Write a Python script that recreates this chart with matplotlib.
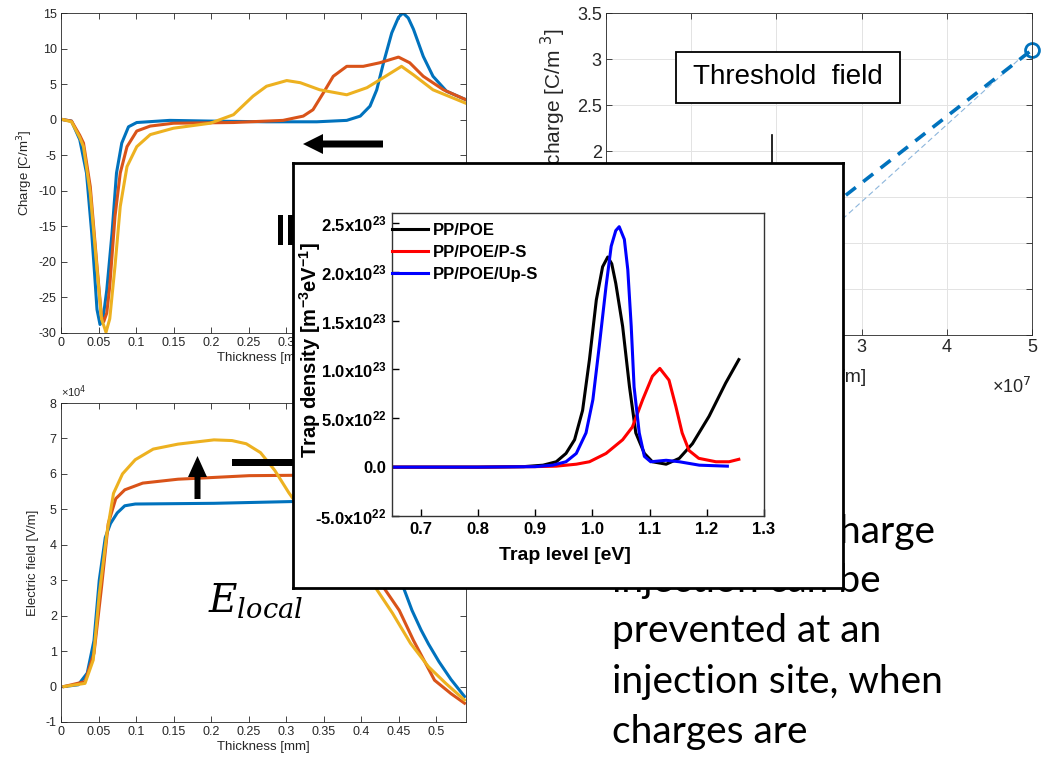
import matplotlib.pyplot as plt
import numpy as np
from matplotlib.patches import Polygon, Rectangle
from matplotlib.ticker import FuncFormatter

W, H = 1045, 763

# ---- space charge profile (top left), charge in C/m^3 vs thickness in mm ----
q_x_blue = [0.003, 0.014, 0.025, 0.034, 0.041, 0.045, 0.048, 0.052, 0.056, 0.061, 0.068,
            0.074, 0.081, 0.09, 0.101, 0.145, 0.199, 0.274, 0.341, 0.381, 0.399, 0.412,
            0.421, 0.43, 0.441, 0.45, 0.456, 0.463, 0.47, 0.483, 0.496, 0.514, 0.54]
q_y_blue = [0, -0.2, -2.8, -7.5, -16, -22, -26.7, -28.8, -28, -24, -16,
            -7.5, -3.3, -1, -0.4, -0.1, -0.2, -0.3, -0.3, -0.1, 0.5, 1.9,
            4.2, 8, 12.2, 14.4, 15, 14.3, 12.7, 8.9, 6.1, 4, 2.8]
q_x_orange = [0.003, 0.014, 0.025, 0.03, 0.039, 0.048, 0.054, 0.057, 0.061, 0.065, 0.072,
              0.079, 0.088, 0.101, 0.119, 0.15, 0.23, 0.296, 0.323, 0.336, 0.35, 0.363,
              0.381, 0.403, 0.425, 0.45, 0.465, 0.483, 0.51, 0.54]
q_y_orange = [0, -0.2, -2.2, -3.3, -9.4, -20.6, -27.7, -28.4, -27.2, -23.4, -13.6,
              -7.5, -3.8, -1.6, -0.9, -0.5, -0.4, -0.1, 0.5, 1.4, 3.8, 6.1,
              7.5, 7.5, 8, 8.8, 8, 6.1, 4.2, 2.8]
q_x_yellow = [0.003, 0.014, 0.025, 0.03, 0.039, 0.048, 0.054, 0.06, 0.065, 0.072, 0.079,
              0.088, 0.101, 0.119, 0.15, 0.199, 0.23, 0.256, 0.274, 0.301, 0.319, 0.345,
              0.381, 0.408, 0.425, 0.454, 0.47, 0.496, 0.54]
q_y_yellow = [0, -0.3, -2.5, -3.8, -10.3, -21, -28, -29.9, -28, -20.6, -12.2,
              -6.6, -3.8, -2.1, -1.2, -0.5, 0.7, 3.3, 4.7, 5.5, 5.2, 4.2,
              3.5, 4.5, 5.6, 7.5, 6.3, 4.2, 2.3]

# ---- electric field profile (bottom left), x10^4 V/m ----
e_x_blue = [0.004, 0.023, 0.035, 0.044, 0.051, 0.059, 0.066, 0.075, 0.085, 0.099, 0.204,
            0.309, 0.36, 0.40, 0.425, 0.445, 0.457, 0.468, 0.48, 0.49, 0.504, 0.52, 0.538]
e_y_blue = [0, 0.05, 0.38, 1.3, 3.0, 4.2, 4.6, 4.9, 5.1, 5.15, 5.17,
            5.22, 5.25, 5.2, 4.9, 3.8, 2.77, 2.15, 1.6, 1.2, 0.7, 0.2, -0.28]
e_x_orange = [0.004, 0.032, 0.044, 0.054, 0.063, 0.073, 0.085, 0.109, 0.156, 0.204, 0.251,
              0.309, 0.36, 0.40, 0.42, 0.431, 0.451, 0.47, 0.498, 0.52, 0.538]
e_y_orange = [0, 0.14, 0.94, 2.8, 4.6, 5.3, 5.55, 5.74, 5.85, 5.9, 5.95,
              5.96, 5.9, 5.4, 3.8, 2.77, 2.15, 1.3, 0.18, -0.2, -0.47]
e_x_yellow = [0.004, 0.032, 0.043, 0.051, 0.061, 0.07, 0.082, 0.099, 0.123, 0.156, 0.204,
              0.228, 0.247, 0.266, 0.285, 0.304, 0.33, 0.36, 0.40, 0.42, 0.442, 0.466,
              0.49, 0.513, 0.538]
e_y_yellow = [0, 0.09, 0.75, 2.6, 4.3, 5.45, 6.0, 6.4, 6.7, 6.84, 6.96,
              6.94, 6.85, 6.6, 6.1, 5.46, 4.7, 4.0, 3.3, 2.77, 2.07, 1.22,
              0.56, 0.09, -0.38]

thick_ticks = [0, 0.05, 0.1, 0.15, 0.2, 0.25, 0.3, 0.35, 0.4, 0.45, 0.5]

# ---- threshold field (top right) ----
field_dash = [2.0e7, 5.0e7]
charge_dash = [0.93, 3.1]
field_thin = [2.0e7, 4.9e7]
charge_thin = [0.61, 3.04]

# ---- TSC trap distribution (inset), x10^23 m^-3 eV^-1 ----
trap_names = ['PP/POE', 'PP/POE/P-S', 'PP/POE/Up-S']
lv_black = [0.65, 0.80, 0.88, 0.914, 0.937, 0.954, 0.969, 0.983, 0.995, 1.007, 1.018, 1.027,
            1.034, 1.041, 1.053, 1.065, 1.076, 1.091, 1.105, 1.129, 1.152, 1.175, 1.204,
            1.233, 1.256]
tr_black = [0, 0, 0.005, 0.02, 0.055, 0.14, 0.28, 0.58, 1.10, 1.71, 2.05, 2.15,
            2.08, 1.88, 1.44, 0.82, 0.35, 0.14, 0.055, 0.03, 0.09, 0.24, 0.52,
            0.86, 1.10]
lv_red = [0.65, 0.80, 0.90, 0.937, 0.972, 0.995, 1.024, 1.053, 1.07, 1.088, 1.105, 1.118,
          1.134, 1.146, 1.157, 1.169, 1.186, 1.216, 1.239, 1.256]
tr_red = [0, 0, 0.005, 0.01, 0.03, 0.055, 0.14, 0.28, 0.41, 0.69, 0.93, 1.01,
          0.89, 0.62, 0.35, 0.17, 0.09, 0.055, 0.055, 0.08]
lv_blue = [0.65, 0.80, 0.90, 0.931, 0.954, 0.972, 0.989, 1.001, 1.012, 1.024, 1.033, 1.041,
           1.047, 1.056, 1.062, 1.068, 1.073, 1.082, 1.091, 1.102, 1.129, 1.152, 1.187, 1.236]
tr_blue = [0, 0, 0.005, 0.02, 0.055, 0.14, 0.35, 0.69, 1.23, 1.85, 2.26, 2.42,
           2.46, 2.33, 2.02, 1.44, 0.82, 0.35, 0.11, 0.055, 0.07, 0.055, 0.02, 0.01]
trap_ticks = [-0.5, 0.0, 0.5, 1.0, 1.5, 2.0, 2.5]
trap_labels = ['-5.0x10$^{22}$', '0.0', '5.0x10$^{22}$', '1.0x10$^{23}$',
               '1.5x10$^{23}$', '2.0x10$^{23}$', '2.5x10$^{23}$']
level_ticks = [0.7, 0.8, 0.9, 1.0, 1.1, 1.2, 1.3]

text_lines = ['Charge', 'injection can be', 'prevented at an', 'injection site, when', 'charges are']

BLUE, ORANGE, YELLOW = '#0072BD', '#D95319', '#EDB120'
GREY = '#262626'

plt.rcParams['font.family'] = ['Liberation Sans', 'DejaVu Sans']
plt.rcParams['axes.unicode_minus'] = False
plt.rcParams['mathtext.fontset'] = 'dejavusans'
plt.rcParams['mathtext.rm'] = 'Liberation Sans:bold'
plt.rcParams['mathtext.it'] = 'Liberation Sans:italic:bold'
plt.rcParams['mathtext.bf'] = 'Liberation Sans:bold'

fig = plt.figure(figsize=(W / 100, H / 100), dpi=100)


def px_axes(x0, y0, x1, y1, **kw):
    return fig.add_axes([x0 / W, 1 - y1 / H, (x1 - x0) / W, (y1 - y0) / H], **kw)


def matlab_look(ax, size):
    ax.tick_params(direction='in', top=True, right=True, length=4, width=0.6,
                   colors=GREY, labelsize=size, pad=3)
    for sp in ax.spines.values():
        sp.set_linewidth(0.6)
        sp.set_color(GREY)


def scaled(p):
    return FuncFormatter(lambda v, pos: '%g' % round(v / 10 ** p, 6))


### charge ###
ax1 = px_axes(61, 13, 466, 333, zorder=1)
ax1.plot(q_x_blue, q_y_blue, color=BLUE, lw=2.2)
ax1.plot(q_x_orange, q_y_orange, color=ORANGE, lw=2.2)
ax1.plot(q_x_yellow, q_y_yellow, color=YELLOW, lw=2.2)
ax1.set_xlim(0, 0.54)
ax1.set_ylim(-30, 15)
ax1.set_xticks(thick_ticks)
ax1.set_yticks(np.arange(-30, 16, 5))
ax1.xaxis.set_major_formatter(scaled(0))
matlab_look(ax1, 9)
ax1.set_ylabel('Charge [C/m$^3$]', fontsize=9.5, color=GREY, labelpad=3)
ax1.set_xlabel('Thickness [mm]', fontsize=9.5, color=GREY, labelpad=2)

### electric field ###
ax2 = px_axes(61, 403, 466, 722, zorder=1)
ax2.plot(e_x_blue, np.array(e_y_blue) * 1e4, color=BLUE, lw=2.2)
ax2.plot(e_x_orange, np.array(e_y_orange) * 1e4, color=ORANGE, lw=2.2)
ax2.plot(e_x_yellow, np.array(e_y_yellow) * 1e4, color=YELLOW, lw=2.2)
ax2.set_xlim(0, 0.54)
ax2.set_ylim(-1e4, 8e4)
ax2.set_xticks(thick_ticks)
ax2.set_yticks(np.arange(-1, 9) * 1e4)
ax2.xaxis.set_major_formatter(scaled(0))
ax2.yaxis.set_major_formatter(scaled(4))
matlab_look(ax2, 9)
ax2.text(0, 1.008, '×10$^4$', transform=ax2.transAxes, fontsize=8, color=GREY,
         ha='left', va='bottom')
ax2.set_ylabel('Electric field [V/m]', fontsize=9.5, color=GREY, labelpad=5)
ax2.set_xlabel('Thickness [mm]', fontsize=9.5, color=GREY, labelpad=2)

### threshold field ###
ax3 = px_axes(606, 13, 1032, 335, zorder=1)
ax3.grid(True, color='#E3E3E3', lw=0.7)
ax3.set_axisbelow(True)
ax3.plot(field_thin, charge_thin, color='#8DB6DC', lw=0.8, dashes=(5, 3))
ax3.plot(field_dash, charge_dash, color=BLUE, lw=2.6, dashes=(3.5, 2.6))
ax3.plot(field_dash[-1:], charge_dash[-1:], 'o', mfc='none', mec=BLUE, mew=2, ms=10,
         clip_on=False)
ax3.plot([1.95e7, 1.95e7], [2.17, 1.2], color='black', lw=1.2)
ax3.add_patch(Rectangle((0.82e7, 2.52), 2.63e7, 0.56, fc='white', ec='black', lw=1.3,
                        zorder=4))
ax3.text(2.14e7, 2.80, 'Threshold  field', fontsize=20, ha='center', va='center', zorder=5)
ax3.set_xlim(0, 5e7)
ax3.set_ylim(0, 3.5)
ax3.set_xticks(np.arange(0, 6) * 1e7)
ax3.set_yticks(np.arange(0, 3.51, 0.5))
ax3.yaxis.set_major_formatter(scaled(0))
ax3.xaxis.set_major_formatter(scaled(7))
matlab_look(ax3, 13)
ax3.text(1.0, -0.13, '×10$^7$', transform=ax3.transAxes, fontsize=13, color=GREY,
         ha='right', va='top')
lab = ax3.set_ylabel('Injected charge [C/m $^3$]', fontsize=15, color=GREY)
lab.set_horizontalalignment('right')
ax3.yaxis.set_label_coords(-0.09, 0.953)
xl = ax3.set_xlabel('Electric field [V/m]', fontsize=14, color=GREY)
xl.set_horizontalalignment('right')
ax3.xaxis.set_label_coords(0.61, -0.105)

### overlay: arrows, marks and slide text ###
ov = fig.add_axes([0, 0, 1, 1], zorder=3)
ov.set_xlim(0, W)
ov.set_ylim(H, 0)
ov.axis('off')
ov.patch.set_alpha(0)
ov.add_patch(Polygon([(383, 140.5), (323, 140.5), (323, 134), (303, 144), (323, 154),
                      (323, 147.5), (383, 147.5)], closed=True, fc='black', ec='none'))
ov.add_patch(Rectangle((278, 215), 5, 30, fc='black', ec='none'))
ov.add_patch(Rectangle((288, 215), 5, 30, fc='black', ec='none'))
ov.add_patch(Polygon([(194.5, 499), (194.5, 477), (188, 477), (197.5, 456), (207, 477),
                      (200.5, 477), (200.5, 499)], closed=True, fc='black', ec='none'))
ov.add_patch(Rectangle((232, 459), 61, 7, fc='black', ec='none'))
ov.text(208, 612, r'$E_{local}$', fontsize=28, math_fontfamily='dejavuserif', va='baseline')
ov.text(935, 543, text_lines[0], ha='right', va='baseline', fontsize=28, family='Lato')
for i, line in enumerate(text_lines[1:]):
    ov.text(612, 592 + 50.3 * i, line, ha='left', va='baseline', fontsize=28, family='Lato')

### inset: trap level distribution ###
frame = px_axes(293, 163, 843, 588, zorder=5)
frame.set_facecolor('white')
frame.set_xticks([])
frame.set_yticks([])
for sp in frame.spines.values():
    sp.set_linewidth(2)
    sp.set_color('black')

ins = px_axes(392, 213, 764, 516, zorder=6)
ins.plot(lv_black, tr_black, color='black', lw=2.2, label=trap_names[0])
ins.plot(lv_red, tr_red, color='#FF0000', lw=2.2, label=trap_names[1])
ins.plot(lv_blue, tr_blue, color='#0000FF', lw=2.2, label=trap_names[2])
ins.set_xlim(0.65, 1.3)
ins.set_ylim(-0.5, 2.6)
ins.set_xticks(level_ticks)
ins.set_xticklabels(['%.1f' % v for v in level_ticks], fontweight='bold')
ins.set_yticks(trap_ticks)
ins.set_yticklabels(trap_labels, fontweight='bold', math_fontfamily='custom')
ins.tick_params(direction='in', length=5, width=1, labelsize=12, pad=4)
for sp in ins.spines.values():
    sp.set_linewidth(1)
    sp.set_color('#333333')
yl = ins.set_ylabel('Trap density [m$^{-3}$eV$^{-1}$]', fontsize=14.5, fontweight='bold',
                    math_fontfamily='custom')
ins.yaxis.set_label_coords(-0.185, 0.548)
ins.set_xlabel('Trap level [eV]', fontsize=14, fontweight='bold')
ins.xaxis.set_label_coords(0.465, -0.102)
ins.legend(loc='upper left', bbox_to_anchor=(0, 0.968), frameon=False,
           prop={'weight': 'bold', 'size': 12}, handlelength=2.15, handletextpad=0.3,
           labelspacing=0.42, borderpad=0, borderaxespad=0)

fig.savefig('out.png', dpi=100)
